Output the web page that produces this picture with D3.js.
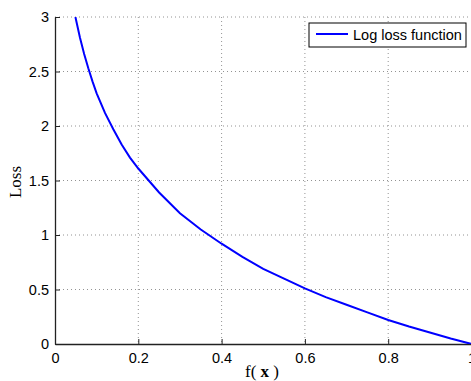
<!DOCTYPE html>
<html>
<head>
<meta charset="utf-8">
<script src="https://cdn.jsdelivr.net/npm/d3@7"></script>
<style>
  body { margin: 0; background: #fff; }
  svg { display: block; }
</style>
</head>
<body>
<svg id="chart" width="471" height="381"></svg>
<script>
// f(x) values and loss
const fx = [0.049, 0.06, 0.07, 0.08, 0.09, 0.10, 0.12, 0.14, 0.16, 0.18, 0.20, 0.25, 0.30, 0.35, 0.40,
            0.45, 0.50, 0.55, 0.60, 0.65, 0.70, 0.75, 0.80, 0.85, 0.90, 0.95, 1.00];
const loss = [3.00, 2.81, 2.66, 2.53, 2.41, 2.30, 2.12, 1.97, 1.83, 1.71, 1.61, 1.39, 1.20, 1.05, 0.92,
              0.80, 0.69, 0.60, 0.51, 0.43, 0.36, 0.29, 0.22, 0.16, 0.105, 0.05, 0.00];
const xTicks = [0, 0.2, 0.4, 0.6, 0.8, 1];
const yTicks = [0, 0.5, 1, 1.5, 2, 2.5, 3];
const seriesName = "Log loss function";

const margin = {top: 17, right: 0, bottom: 37, left: 55};
const width = 471 - margin.left - margin.right + 0.5;
const height = 381 - margin.top - margin.bottom;

const svg = d3.select("#chart");
const g = svg.append("g").attr("transform", `translate(${margin.left},${margin.top})`);

const x = d3.scaleLinear().domain([0, 1]).range([0, width]);
const y = d3.scaleLinear().domain([0, 3]).range([height, 0]);

// dotted grid
g.append("g").selectAll("line.gx")
  .data(xTicks.slice(1))
  .join("line")
  .attr("x1", d => x(d)).attr("x2", d => x(d))
  .attr("y1", 0).attr("y2", height)
  .attr("stroke", "#777").attr("stroke-width", 0.8)
  .attr("stroke-dasharray", "1,3");
g.append("g").selectAll("line.gy")
  .data(yTicks.slice(1))
  .join("line")
  .attr("x1", 0).attr("x2", width)
  .attr("y1", d => y(d)).attr("y2", d => y(d))
  .attr("stroke", "#777").attr("stroke-width", 0.8)
  .attr("stroke-dasharray", "1,3");

// axes
const xAxis = g.append("g")
  .attr("transform", `translate(0,${height})`)
  .call(d3.axisBottom(x).tickValues(xTicks).tickFormat(d3.format("")).tickSizeInner(-5).tickSizeOuter(0).tickPadding(10));
const yAxis = g.append("g")
  .call(d3.axisLeft(y).tickValues(yTicks).tickFormat(d3.format("")).tickSizeInner(-5).tickSizeOuter(0).tickPadding(6));

[xAxis, yAxis].forEach(a => {
  a.select(".domain").attr("stroke", "#222").attr("stroke-width", 1.3);
  a.selectAll(".tick line").attr("stroke", "#222");
  a.selectAll("text").attr("font-family", "Liberation Sans, Arial, sans-serif")
    .attr("font-size", 14.5).attr("fill", "#000");
});
xAxis.selectAll("text").attr("dy", "0.6em");

// clip + curve
svg.append("clipPath").attr("id", "clip")
  .append("rect").attr("x", 0).attr("y", 0).attr("width", width).attr("height", height);

const pts = fx.map((v, i) => [v, loss[i]]);
g.append("path")
  .datum(pts)
  .attr("clip-path", "url(#clip)")
  .attr("fill", "none")
  .attr("stroke", "#0000ff")
  .attr("stroke-width", 2)
  .attr("d", d3.line().x(d => x(d[0])).y(d => y(d[1])));

// axis titles
svg.append("text")
  .attr("x", 262).attr("y", 377)
  .attr("text-anchor", "middle")
  .attr("font-family", "Liberation Serif, Times New Roman, serif")
  .attr("font-size", 17)
  .html('f( <tspan font-weight="bold">x</tspan> )');

svg.append("text")
  .attr("transform", `translate(21,182) rotate(-90)`)
  .attr("text-anchor", "middle")
  .attr("font-family", "Liberation Serif, Times New Roman, serif")
  .attr("font-size", 17)
  .text("Loss");

// legend
const lg = svg.append("g").attr("transform", "translate(309,23)");
lg.append("rect")
  .attr("width", 157).attr("height", 24)
  .attr("fill", "#fff").attr("stroke", "#000").attr("stroke-width", 1);
lg.append("line")
  .attr("x1", 7).attr("x2", 39).attr("y1", 11).attr("y2", 11)
  .attr("stroke", "#0000ff").attr("stroke-width", 2);
lg.append("text")
  .attr("x", 44).attr("y", 17)
  .attr("font-family", "Liberation Sans, Arial, sans-serif")
  .attr("font-size", 14.5)
  .text(seriesName);
</script>
</body>
</html>
